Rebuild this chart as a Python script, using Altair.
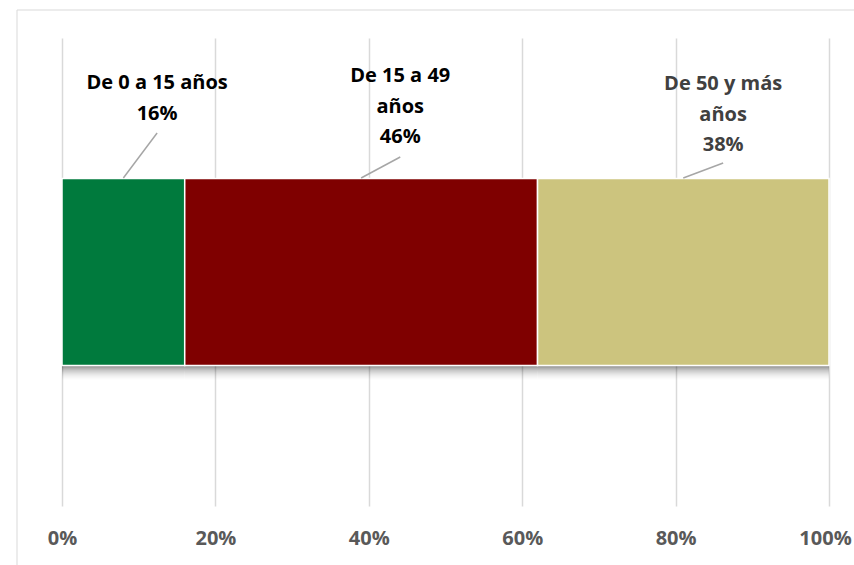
import altair as alt
import pandas as pd

# ---- data ----
categories = ["De 0 a 15 años", "De 15 a 49 años", "De 50 y más años"]
label_text = ["De 0 a 15 años\n16%", "De 15 a 49\naños\n46%", "De 50 y más\naños\n38%"]
values = [16, 46, 38]
tick_values = [0, 20, 40, 60, 80, 100]

# ---- styles / layout ----
bar_colors = ["#007A3D", "#7F0000", "#CCC47E"]
label_colors = ["#000000", "#000000", "#404040"]
label_dx = [4.4, 5.1, 5.2]          # label shift from segment midpoint (axis units)
label_top = [35, 28, 36]            # px from top of plot
leader_top = [95, 119, 125]         # px from top of plot
bar_top_px = 140
FONT = "Open Sans"

ends = pd.Series(values).cumsum()
df = pd.DataFrame({
    "cat": categories,
    "value": values,
    "end": ends,
    "start": ends - pd.Series(values),
    "label": label_text,
    "grp": ["a"] * len(values),
})
df["mid"] = (df["start"] + df["end"]) / 2
df["lx"] = df["mid"] + pd.Series(label_dx)

W, H = 767, 468

xscale = alt.Scale(domain=[0, 100], nice=False, zero=True)
yscale = alt.Scale(paddingInner=0.6, paddingOuter=0.3)

xaxis = alt.Axis(values=tick_values, labelExpr="datum.value + '%'", grid=True,
                 gridColor="#D9D9D9", gridWidth=1.5, domain=False, ticks=False,
                 labelFont=FONT, labelFontWeight="bold", labelFontSize=20,
                 labelColor="#595959", labelPadding=22, labelFlush=False,
                 labelBound=False, labelOverlap=False, title=None,
                 labelOffset={"condition": {"test": "datum.value == 100", "value": -4}, "value": 0})

base = alt.Chart(df)

shadows = []
for k, op in [(2, 0.14), (4, 0.11), (6, 0.08), (8, 0.06), (10, 0.045), (12, 0.03), (14, 0.02)]:
    shadows.append(
        base.mark_bar(color="black", opacity=op).encode(
            x=alt.X("start:Q", scale=xscale, axis=xaxis),
            x2="end:Q",
            y=alt.Y("grp:N", scale=yscale, axis=None),
            yOffset=alt.value(k),
        )
    )

bars = base.mark_bar(stroke="white", strokeWidth=1.5).encode(
    x=alt.X("start:Q", scale=xscale, axis=xaxis),
    x2="end:Q",
    y=alt.Y("grp:N", scale=yscale, axis=None),
    color=alt.Color("cat:N", scale=alt.Scale(domain=categories, range=bar_colors), legend=None),
)

layers = shadows + [bars]

for i in range(len(values)):
    row = alt.Chart(df.iloc[[i]])
    layers.append(
        row.mark_rule(color="#A6A6A6", strokeWidth=1.5).encode(
            x=alt.X("mid:Q", scale=xscale), x2="lx:Q",
            y=alt.value(bar_top_px), y2=alt.value(leader_top[i]),
        )
    )
    layers.append(
        row.mark_text(lineBreak="\n", baseline="top", align="center", fontSize=20,
                      font=FONT, fontWeight="bold", color=label_colors[i], lineHeight=30.5).encode(
            x=alt.X("lx:Q", scale=xscale), y=alt.value(label_top[i]), text="label:N",
        )
    )

border_df = pd.DataFrame({"a": [0]})
layers.append(alt.Chart(border_df).mark_rule(color="#D9D9D9", strokeWidth=1).encode(
    x=alt.value(-45), y=alt.value(-28), y2=alt.value(600)))
layers.append(alt.Chart(border_df).mark_rule(color="#D9D9D9", strokeWidth=1).encode(
    y=alt.value(-28), x=alt.value(-45), x2=alt.value(900)))

chart = alt.layer(*layers).properties(
    width=W, height=H,
    autosize=alt.AutoSizeParams(type="none"),
    padding={"left": 62, "top": 38, "right": 25, "bottom": 59},
    background="white",
).configure_view(stroke=None)

chart.save("out.html", embed_options={"renderer": "svg", "actions": False})
